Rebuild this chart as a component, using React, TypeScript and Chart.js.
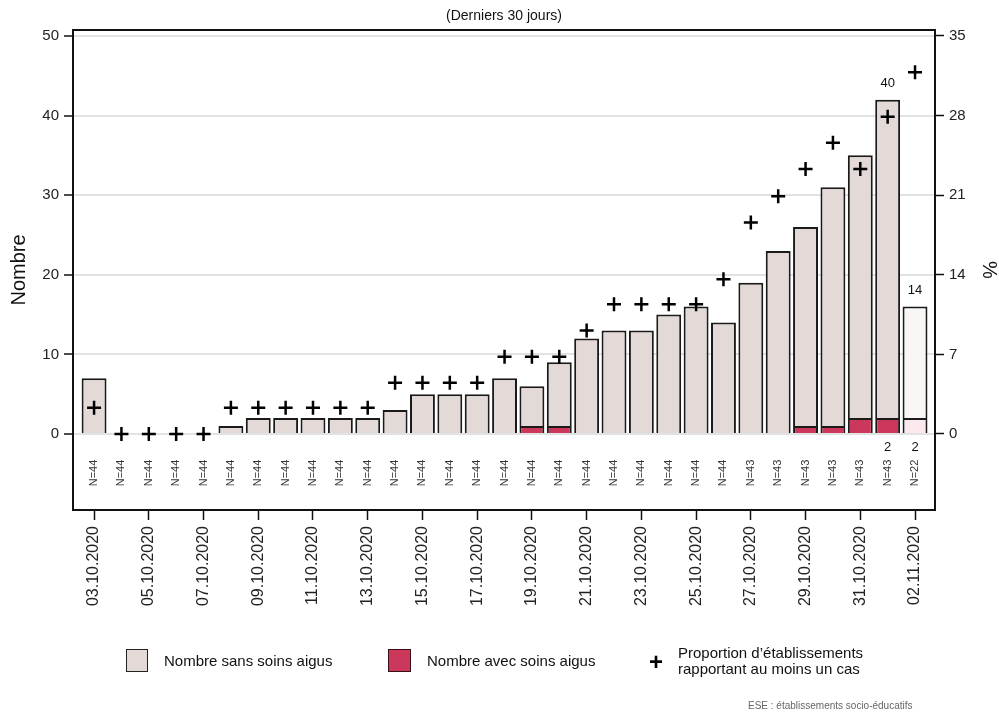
import React, { useEffect, useRef } from "react";
import { Chart, registerables } from "chart.js";

Chart.register(...registerables);

const dates = [
  "03.10.2020", "04.10.2020", "05.10.2020", "06.10.2020", "07.10.2020", "08.10.2020",
  "09.10.2020", "10.10.2020", "11.10.2020", "12.10.2020", "13.10.2020", "14.10.2020",
  "15.10.2020", "16.10.2020", "17.10.2020", "18.10.2020", "19.10.2020", "20.10.2020",
  "21.10.2020", "22.10.2020", "23.10.2020", "24.10.2020", "25.10.2020", "26.10.2020",
  "27.10.2020", "28.10.2020", "29.10.2020", "30.10.2020", "31.10.2020", "01.11.2020",
  "02.11.2020",
];
const sansSoins = [7, 0, 0, 0, 0, 1, 2, 2, 2, 2, 2, 3, 5, 5, 5, 7, 5, 8, 12, 13, 13, 15, 16, 14, 19, 23, 25, 30, 33, 40, 14];
const avecSoins = [0, 0, 0, 0, 0, 0, 0, 0, 0, 0, 0, 0, 0, 0, 0, 0, 1, 1, 0, 0, 0, 0, 0, 0, 0, 0, 1, 1, 2, 2, 2];
const proportion = [2.3, 0, 0, 0, 0, 2.3, 2.3, 2.3, 2.3, 2.3, 2.3, 4.5, 4.5, 4.5, 4.5, 6.8, 6.8, 6.8, 9.1, 11.4, 11.4, 11.4, 11.4, 13.6, 18.6, 20.9, 23.3, 25.6, 23.3, 27.9, 31.8];
const nEtab = [44, 44, 44, 44, 44, 44, 44, 44, 44, 44, 44, 44, 44, 44, 44, 44, 44, 44, 44, 44, 44, 44, 44, 44, 43, 43, 43, 43, 43, 43, 22];
const labelledDays = [29, 30];
const leftTicks = [0, 10, 20, 30, 40, 50];
const rightTicks = [0, 7, 14, 21, 28, 35];

const FONT = "'Liberation Sans', Arial, Helvetica, sans-serif";
const SANS = "#e3d9d7";
const AVEC = "#cc385b";
const SANS_LIGHT = "#f8f7f6";
const AVEC_LIGHT = "#fbe9ed";
const last = dates.length - 1;

const extrasPlugin = {
  id: "extras",
  afterDatasetsDraw(chart: any) {
    const { ctx, scales, chartArea } = chart;
    const x = scales.x;
    const y = scales.y;
    ctx.save();
    // N= labels
    ctx.fillStyle = "#333";
    ctx.font = `11px ${FONT}`;
    ctx.textAlign = "center";
    ctx.textBaseline = "middle";
    nEtab.forEach((n, i) => {
      ctx.save();
      ctx.translate(x.getPixelForValue(i), 473);
      ctx.rotate(-Math.PI / 2);
      ctx.fillText(`N=${n}`, 0, 0);
      ctx.restore();
    });
    // value labels
    ctx.fillStyle = "#111";
    ctx.font = `13px ${FONT}`;
    labelledDays.forEach((i) => {
      const px = x.getPixelForValue(i);
      const top = y.getPixelForValue(sansSoins[i] + avecSoins[i]);
      ctx.fillText(String(sansSoins[i]), px, top - 16);
      ctx.fillText(String(avecSoins[i]), px, y.getPixelForValue(0) + 13);
    });
    ctx.restore();
    // title
    ctx.save();
    ctx.fillStyle = "#111";
    ctx.font = `14px ${FONT}`;
    ctx.textAlign = "center";
    ctx.textBaseline = "middle";
    ctx.fillText("(Derniers 30 jours)", (chartArea.left + chartArea.right) / 2, 16);
    ctx.restore();
  },
  afterDraw(chart: any) {
    const { ctx, chartArea } = chart;
    ctx.save();
    ctx.strokeStyle = "#111";
    ctx.lineWidth = 2;
    ctx.strokeRect(chartArea.left, chartArea.top, chartArea.right - chartArea.left, chartArea.bottom - chartArea.top);
    ctx.restore();
  },
};

const App = () => {
  const chartRef = useRef<HTMLCanvasElement | null>(null);

  useEffect(() => {
    if (!chartRef.current) return;
    const ctx = chartRef.current.getContext("2d");
    if (!ctx) return;
    Chart.defaults.font.family = FONT;

    const chart = new Chart(ctx, {
      type: "bar",
      data: {
        datasets: [
          {
            type: "line",
            label: "Proportion d'établissements rapportant au moins un cas",
            data: proportion.map((v, i) => ({ x: i, y: v })),
            yAxisID: "y2",
            showLine: false,
            pointStyle: "cross",
            pointRadius: 7,
            pointBorderWidth: 2.5,
            borderColor: "#000",
            backgroundColor: "#000",
            order: 0,
          } as any,
          {
            label: "Nombre avec soins aigus",
            data: avecSoins.map((v, i) => ({ x: i, y: v > 0 ? v : null })),
            backgroundColor: avecSoins.map((_, i) => (i === last ? AVEC_LIGHT : AVEC)),
            borderColor: "#1a1a1a",
            borderWidth: 2,
            stack: "s",
            yAxisID: "y",
            barPercentage: 0.91,
            categoryPercentage: 1,
            order: 1,
          },
          {
            label: "Nombre sans soins aigus",
            data: sansSoins.map((v, i) => ({ x: i, y: v > 0 ? v : null })),
            backgroundColor: sansSoins.map((_, i) => (i === last ? SANS_LIGHT : SANS)),
            borderColor: "#1a1a1a",
            borderWidth: 2,
            stack: "s",
            yAxisID: "y",
            barPercentage: 0.91,
            categoryPercentage: 1,
            order: 1,
          },
        ],
      },
      options: {
        animation: false,
        responsive: true,
        maintainAspectRatio: false,
        layout: { padding: { top: 30, bottom: 85, left: 0, right: 0 } },
        plugins: { legend: { display: false }, tooltip: { enabled: false } },
        scales: {
          x: {
            type: "linear",
            offset: false,
            min: -0.77,
            max: 30.73,
            afterBuildTicks: (axis: any) => {
              axis.ticks = dates.map((_, i) => i).filter((i) => i % 2 === 0).map((v) => ({ value: v }));
            },
            afterFit: (axis: any) => {
              axis.height = 120;
            },
            ticks: {
              callback: (v: any) => dates[v as number] ?? "",
              minRotation: 90,
              maxRotation: 90,
              autoSkip: false,
              color: "#222",
              font: { size: 16 },
              padding: 6,
            },
            grid: { offset: false, drawOnChartArea: false, tickLength: 10, tickColor: "#111", tickWidth: 1.5 },
            border: { display: true, color: "#111", width: 2 },
          },
          y: {
            position: "left",
            stacked: true,
            min: -9.55,
            max: 50.75,
            afterBuildTicks: (axis: any) => {
              axis.ticks = leftTicks.map((v) => ({ value: v }));
            },
            afterFit: (axis: any) => {
              axis.width = 73;
            },
            ticks: { color: "#222", font: { size: 15 }, padding: 5 },
            grid: { color: "#e2e2e2", lineWidth: 2, tickColor: "#111", tickLength: 9, tickWidth: 1.5 },
            border: { display: true, color: "#111", width: 2 },
            title: { display: true, text: "Nombre", color: "#111", font: { size: 20, lineHeight: 1.2 }, padding: { top: 7, bottom: 0 } },
          },
          y2: {
            position: "right",
            min: -6.685,
            max: 35.525,
            afterBuildTicks: (axis: any) => {
              axis.ticks = rightTicks.map((v) => ({ value: v }));
            },
            afterFit: (axis: any) => {
              axis.width = 64;
            },
            ticks: { color: "#222", font: { size: 15 }, padding: 5 },
            grid: { drawOnChartArea: false, tickColor: "#111", tickLength: 9, tickWidth: 1.5 },
            border: { display: true, color: "#111", width: 2 },
            title: { display: true, text: "%", color: "#111", font: { size: 20, lineHeight: 1 }, padding: { top: 0, bottom: 0 } },
          },
        },
      },
      plugins: [extrasPlugin],
    });

    return () => {
      chart.destroy();
    };
  }, []);

  const legendText: React.CSSProperties = { position: "absolute", fontSize: 15, color: "#111", whiteSpace: "nowrap", lineHeight: "17px" };

  return (
    <div style={{ position: "absolute", left: 0, top: 0, width: 999, height: 715, background: "#fff", fontFamily: FONT }}>
      <div style={{ position: "absolute", left: 0, top: 0, width: 999, height: 715 }}>
        <canvas ref={chartRef}></canvas>
      </div>
      <div style={{ position: "absolute", left: 126, top: 649, width: 20, height: 21, background: SANS, border: "1.5px solid #222" }}></div>
      <div style={{ ...legendText, left: 164, top: 652 }}>Nombre sans soins aigus</div>
      <div style={{ position: "absolute", left: 388, top: 649, width: 21, height: 21, background: AVEC, border: "1.5px solid #3a0f1c" }}></div>
      <div style={{ ...legendText, left: 427, top: 652 }}>Nombre avec soins aigus</div>
      <div style={{ position: "absolute", left: 649, top: 650, fontSize: 24, fontWeight: "bold", lineHeight: "24px" }}>+</div>
      <div style={{ ...legendText, left: 678, top: 645, lineHeight: "16px" }}>
        Proportion d’établissements
        <br />
        rapportant au moins un cas
      </div>
      <div style={{ position: "absolute", left: 748, top: 700, fontSize: 10, color: "#666", whiteSpace: "nowrap" }}>
        ESE : établissements socio-éducatifs
      </div>
    </div>
  );
};

export default App;
